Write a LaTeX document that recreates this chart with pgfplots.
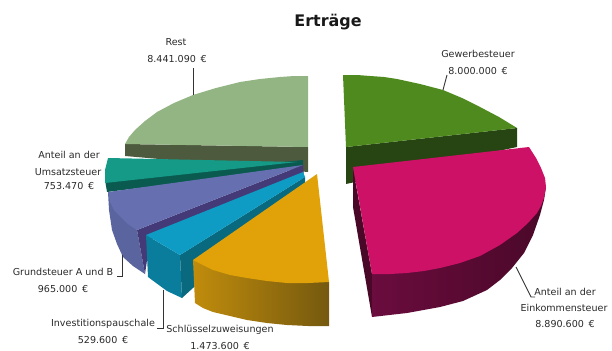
\documentclass[border=0pt]{standalone}
\usepackage{pgfplots}
\usepackage{fontspec}
\setmainfont{DejaVu Sans}
\pgfplotsset{compat=1.18}
\definecolor{restTop}{HTML}{93B483}
\definecolor{restSide}{HTML}{4E5A3E}
\definecolor{gewTop}{HTML}{4E8A1E}
\definecolor{gewSide}{HTML}{274512}
\definecolor{pinkTop}{HTML}{CC1166}
\definecolor{pinkA}{HTML}{6A0C3E}
\definecolor{pinkB}{HTML}{4A0828}
\definecolor{gelbTop}{HTML}{E0A208}
\definecolor{gelbA}{HTML}{C08C0C}
\definecolor{gelbB}{HTML}{75590F}
\definecolor{cyanTop}{HTML}{0E9CC4}
\definecolor{cyanSide}{HTML}{0A7C9C}
\definecolor{cyanIn}{HTML}{08697F}
\definecolor{lilaTop}{HTML}{6670B0}
\definecolor{lilaSide}{HTML}{5A659F}
\definecolor{lilaIn}{HTML}{453A78}
\definecolor{tealTop}{HTML}{149A86}
\definecolor{tealIn}{HTML}{0A5A50}
\definecolor{txt}{HTML}{2A2A2A}
\tikzset{lab/.style={font=\fontsize{9.6}{10}\selectfont, text=txt, inner sep=0pt, anchor=center}}
\begin{document}
\begin{tikzpicture}
\begin{axis}[width=612bp, height=351bp, scale only axis,
  xmin=0, xmax=612, ymin=0, ymax=351, y dir=reverse,
  hide axis, clip=false,
  every axis plot/.append style={no markers, line width=0pt}]
% Rest
\addplot[fill=restSide, draw=none] coordinates {(125,144) (308,147) (308,172) (125,156)} -- cycle;
\addplot[fill=restTop, draw=none] coordinates {(308,76) (294,76) (280,77) (260,79) (240,82) (216,88) (193,95) (174,103) (157,112) (145,121) (135,130) (129,137) (125,144) (308,147)} -- cycle;
% Gewerbesteuer
\addplot[fill=gewSide, draw=none] coordinates {(346,147) (517,128) (517,147) (346,184)} -- cycle;
\addplot[fill=gewTop, draw=none] coordinates {(343,75) (357,75) (370,76) (384,77) (397,79) (420,84) (443,90) (462,98) (480,107) (499,117) (517,128) (346,147)} -- cycle;
% Anteil an der Umsatzsteuer
\addplot[fill=tealIn, draw=none] coordinates {(105,180) (107,192) (303,168) (303,160)} -- cycle;
\addplot[fill=tealTop, draw=none] coordinates {(108,158) (297,162) (105,183) (105,170)} -- cycle;
% Grundsteuer A und B
\addplot[fill=lilaSide, draw=none] coordinates {(108,192) (109,210) (112,230) (117,244) (123,257) (133,266) (145,274) (137,230)} -- cycle;
\addplot[fill=lilaIn, draw=none] coordinates {(137,230) (145,274) (150,240) (304,178) (303,165)} -- cycle;
\addplot[fill=lilaTop, draw=none] coordinates {(108,192) (303,165) (137,230) (128,224) (120,216) (114,210) (110,202)} -- cycle;
% Investitionspauschale
\addplot[fill=cyanSide, draw=none] coordinates {(146,235) (180,255) (182,298) (167,291) (148,277)} -- cycle;
\addplot[fill=cyanIn, draw=none] coordinates {(180,255) (305,177) (305,186) (182,298)} -- cycle;
\addplot[fill=cyanTop, draw=none] coordinates {(146,235) (303,172) (305,177) (180,255)} -- cycle;
% Schluesselzuweisungen
\addplot[draw=none, left color=gelbA, right color=gelbB] coordinates {(193,260) (329,282) (329,326) (308,326) (287,325) (267,323) (247,320) (230,316) (213,312) (203,308) (195,303)} -- cycle;
\addplot[fill=gelbTop, draw=none] coordinates {(317,174) (193,260) (203,265) (213,270) (230,275) (247,278) (267,281) (287,283) (308,283) (329,282)} -- cycle;
% Anteil an der Einkommensteuer
\addplot[fill=pinkB, draw=none] coordinates {(353,168) (353,207) (372,317) (372,274)} -- cycle;
\addplot[draw=none, left color=pinkA, right color=pinkB] coordinates {(372,274) (546,187) (544,200) (540,215) (533,235) (524,253) (512,268) (500,280) (487,290) (463,301) (440,307) (407,313) (372,317)} -- cycle;
\addplot[fill=pinkTop, draw=none] coordinates {(353,167) (529,147) (536,158) (541,168) (545,178) (546,187) (544,198) (541,206) (537,213) (528,223) (517,233) (500,245) (480,256) (460,263) (440,268) (424,271) (407,273) (390,274) (372,274)} -- cycle;
% Leader lines
\addplot[draw=black!80, line width=0.9pt] coordinates {(193,68) (193,95)};
\addplot[draw=black!80, line width=0.9pt] coordinates {(447,75) (443,90)};
\addplot[draw=black!80, line width=0.9pt] coordinates {(516,267) (531,297) (535,297)};
\addplot[draw=black!80, line width=0.9pt] coordinates {(122,255) (122,276) (117,276)};
\addplot[draw=black!80, line width=0.9pt] coordinates {(163,290) (163,328) (157,328)};
% Title and labels
\node[inner sep=0pt, font=\fontsize{16}{18}\selectfont\bfseries, text=black!90] at (axis cs:328,22) {Erträge};
\node[lab] at (axis cs:176,42) {Rest};
\node[lab] at (axis cs:177,59) {8.441.090 \,€};
\node[lab] at (axis cs:478,54) {Gewerbesteuer};
\node[lab] at (axis cs:478,71) {8.000.000 \,€};
\node[lab] at (axis cs:69,155) {Anteil an der};
\node[lab] at (axis cs:68,172) {Umsatzsteuer};
\node[lab] at (axis cs:69,186) {753.470 \,€};
\node[lab] at (axis cs:63,272) {Grundsteuer A und B};
\node[lab] at (axis cs:63,289) {965.000 \,€};
\node[lab] at (axis cs:103,324) {Investitionspauschale};
\node[lab] at (axis cs:103,340) {529.600 \,€};
\node[lab] at (axis cs:220,330) {Schlüsselzuweisungen};
\node[lab] at (axis cs:220,346) {1.473.600 \,€};
\node[lab] at (axis cs:565,292) {Anteil an der};
\node[lab] at (axis cs:564,308) {Einkommensteuer};
\node[lab] at (axis cs:565,324) {8.890.600 \,€};
\path[use as bounding box] (axis cs:0,0) rectangle (axis cs:612,351);
\end{axis}
\end{tikzpicture}
\end{document}
